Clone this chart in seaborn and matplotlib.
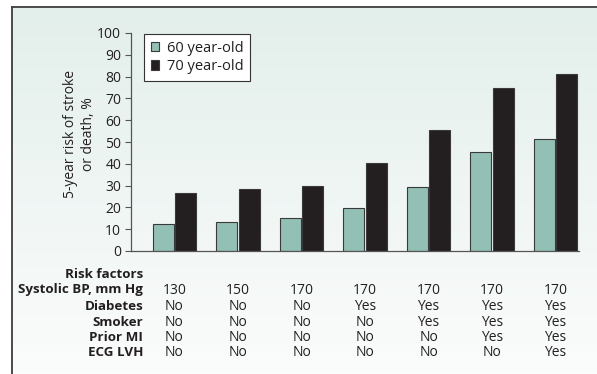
import numpy as np
import pandas as pd
import matplotlib
matplotlib.use("Agg")
import matplotlib.pyplot as plt
import seaborn as sns
from matplotlib.transforms import blended_transform_factory
from matplotlib.lines import Line2D

# ---- data ----
groups = ["A", "B", "C", "D", "E", "F", "G"]
series = ["60 year-old", "70 year-old"]
risk_60 = [12.5, 13.5, 15, 19.5, 29.5, 45.5, 51.5]
risk_70 = [26.5, 28.5, 30, 40.5, 55.5, 75, 81]
yticks = [0, 10, 20, 30, 40, 50, 60, 70, 80, 90, 100]
table_title = "Risk factors"
row_labels = ["Systolic BP, mm Hg", "Diabetes", "Smoker", "Prior MI", "ECG LVH"]
systolic = ["130", "150", "170", "170", "170", "170", "170"]
diabetes = ["No", "No", "No", "Yes", "Yes", "Yes", "Yes"]
smoker = ["No", "No", "No", "No", "Yes", "Yes", "Yes"]
prior_mi = ["No", "No", "No", "No", "No", "Yes", "Yes"]
ecg_lvh = ["No", "No", "No", "No", "No", "No", "Yes"]
rows = [systolic, diabetes, smoker, prior_mi, ecg_lvh]

df = pd.DataFrame({
    "group": groups * 2,
    "risk": risk_60 + risk_70,
    "age": [series[0]] * len(groups) + [series[1]] * len(groups),
})

sns.set_style("white")
plt.rcParams["font.family"] = ["Open Sans", "DejaVu Sans"]
TXT = "#231f20"
FS = 10
W, H = 597, 374
fig = plt.figure(figsize=(W / 100, H / 100), dpi=100)
fig.patch.set_facecolor("white")

# background panel: pixel-exact gradient and frame
top = np.array([227, 239, 235]) / 255
bot = np.array([251, 252, 252]) / 255
ph = H - 7
t = np.linspace(0, 1, ph)[:, None, None]
grad = top[None, None, :] * (1 - t) + bot[None, None, :] * t
grad = np.repeat(grad, W - 11, axis=1)
fig.figimage(grad, xo=11, yo=0, origin="upper", zorder=-10)
fig.add_artist(Line2D([11.5 / W, 11.5 / W], [0, 1 - 6.5 / H], transform=fig.transFigure,
                      color="#3d3d3d", lw=1.3, solid_capstyle="butt", zorder=-5))
fig.add_artist(Line2D([11 / W, 1], [1 - 6.5 / H, 1 - 6.5 / H], transform=fig.transFigure,
                      color="#3d3d3d", lw=1.3, solid_capstyle="butt", zorder=-5))

# main axes
x0, x1, ytop, ybot = 131, 579, 33, 251
ax = fig.add_axes([x0 / W, 1 - ybot / H, (x1 - x0) / W, (ybot - ytop) / H], zorder=1)
ax.patch.set_alpha(0)
sns.barplot(data=df, x="group", y="risk", hue="age", order=groups, hue_order=series,
            palette=["#93c0b5", "#231f20"], width=0.71, gap=0.05,
            edgecolor="#3a3a3a", linewidth=0.8, saturation=1, ax=ax, errorbar=None)
ax.set_xlim(-0.685, 6.37)
ax.set_ylim(0, 100)
ax.set_yticks(yticks)
ax.set_yticklabels([str(v) for v in yticks], fontsize=FS, color=TXT)
ax.set_xticks([])
ax.set_xlabel("")
ax.set_ylabel("5-year risk of stroke\nor death, %", fontsize=FS, color=TXT,
              linespacing=1.3)
ax.yaxis.set_label_coords((96 - x0) / (x1 - x0), (ybot - 134.5) / (ybot - ytop))
ax.tick_params(axis="y", direction="out", length=4, width=0.8, color="#555555", pad=3, left=True)
for s in ["top", "right"]:
    ax.spines[s].set_visible(False)
for s in ["left", "bottom"]:
    ax.spines[s].set_color("#555555")
    ax.spines[s].set_linewidth(0.9)

# legend
handles, labels = ax.get_legend_handles_labels()
if ax.get_legend() is not None:
    ax.get_legend().remove()
leg = ax.legend(handles, labels, loc="upper left",
                bbox_to_anchor=((144 - x0) / (x1 - x0), (ybot - 34) / (ybot - ytop)),
                borderaxespad=0, fontsize=10.5, frameon=True, fancybox=False,
                handlelength=0.6, handleheight=0.6, handletextpad=0.5,
                labelspacing=0.25, borderpad=0.45, labelcolor=TXT)
leg.get_frame().set_edgecolor("#333333")
leg.get_frame().set_linewidth(0.8)
leg.get_frame().set_facecolor("white")
leg.get_frame().set_alpha(1)

# table of risk factors
tr = blended_transform_factory(ax.transData, fig.transFigure)
row_y = [290, 306, 322, 337.5, 353]
fig.text(143 / W, 1 - 274 / H, table_title, ha="right", va="center",
         fontsize=9.6, fontweight="bold", color=TXT)
for lab, yy, vals in zip(row_labels, row_y, rows):
    fig.text(143 / W, 1 - yy / H, lab, ha="right", va="center",
             fontsize=9.6, fontweight="bold", color=TXT)
    for i, v in enumerate(vals):
        ax.text(i, 1 - yy / H, v, transform=tr, ha="center", va="center",
                fontsize=FS, color=TXT)

fig.savefig("out.png", dpi=100)
